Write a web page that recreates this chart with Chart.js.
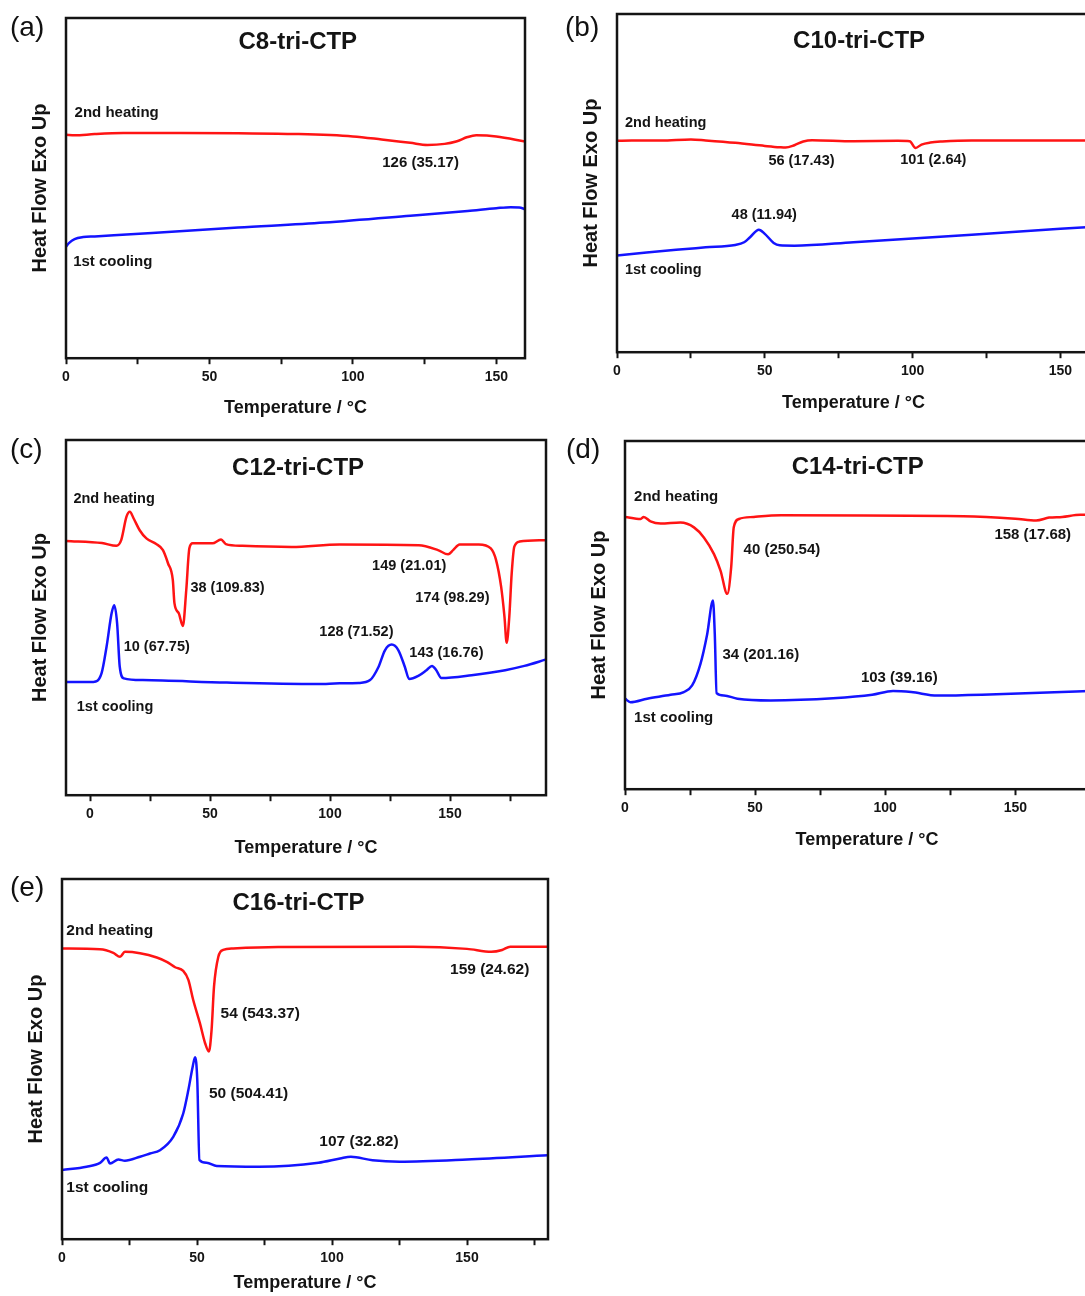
<!DOCTYPE html>
<html lang="en">
<head>
<meta charset="UTF-8">
<title>DSC curves</title>
<style>
  html, body { margin: 0; padding: 0; background: #fff; overflow: hidden; width: 1085px; height: 1296px; }
  body { position: relative; font-family: "Liberation Sans", Arial, sans-serif; }
  canvas { position: absolute; }
  .tag { position: absolute; font-size: 28px; line-height: 1; color: #111; z-index: 2; }
</style>
</head>
<body>
<div class="tag" style="left:10px;top:13px">(a)</div>
<div class="tag" style="left:565px;top:13px">(b)</div>
<div class="tag" style="left:10px;top:435px">(c)</div>
<div class="tag" style="left:566px;top:435px">(d)</div>
<div class="tag" style="left:10px;top:873px">(e)</div>

<script src="https://cdn.jsdelivr.net/npm/chart.js"></script>
<script>
// (a) C8-tri-CTP  -- temperature (°C) / heat flow (relative, 0-100)
const aHeatT = [0, 3, 10, 20, 40, 60, 80, 100, 110, 120, 126, 132, 136, 140, 143, 150, 160];
const aHeatY = [65.7, 65.5, 65.9, 66.2, 66.2, 66.1, 65.9, 65.2, 64.3, 63.3, 62.7, 63.0, 63.7, 65.0, 65.5, 65.2, 63.7];
const aCoolT = [0, 1, 3, 6, 10, 30, 60, 90, 120, 140, 150, 155, 158, 160];
const aCoolY = [32.8, 33.8, 35.0, 35.6, 35.8, 36.8, 38.4, 39.9, 41.9, 43.3, 44.1, 44.4, 44.3, 43.8];

// (b) C10-tri-CTP
const bHeatT = [0, 5, 15, 25, 30, 40, 50, 55, 57, 60, 63, 66, 80, 95, 99, 101, 103, 106, 110, 120, 140, 170];
const bHeatY = [62.5, 62.6, 62.6, 62.9, 62.6, 61.9, 61.0, 60.6, 60.5, 61.2, 62.3, 62.7, 62.4, 62.5, 62.4, 60.4, 61.4, 62.0, 62.3, 62.6, 62.6, 62.6];
const bCoolT = [0, 10, 20, 30, 40, 43, 45, 48, 50, 53, 55, 60, 80, 100, 120, 150, 170];
const bCoolY = [28.6, 29.5, 30.3, 31.0, 31.7, 32.5, 34.0, 36.2, 35.0, 32.3, 31.6, 31.5, 32.5, 33.6, 34.7, 36.5, 37.6];

// (c) C12-tri-CTP
const cHeatT = [-10, 5, 11, 13, 15.2, 16.6, 18.2, 20.7, 23.5, 27.6, 30.4, 32.5, 34.5, 35.2, 37, 38.7, 40.1, 41.4, 42.8, 51,
                54.6, 56.6, 63.5, 84, 104, 137, 145, 149.2, 151.3, 154, 162, 167, 169.2, 171.3, 172.7, 173.6, 174.7, 175.7, 176.8, 179, 190];
const cHeatY = [71.6, 71.0, 70.2, 71.8, 78.4, 79.8, 77.9, 74.6, 72.3, 70.7, 69.0, 65.3, 60.6, 54.0, 51.2, 47.6, 57.7, 69.5, 70.9, 70.9,
                72.0, 70.7, 70.2, 69.9, 70.6, 70.4, 69.0, 67.8, 69.0, 70.6, 70.6, 69.5, 66.2, 58.7, 50.2, 42.9, 50.2, 62.4, 70.0, 71.4, 71.8];
const cCoolT = [-10, 1.4, 4.8, 6.9, 9, 10.1, 11.3, 12.4, 14.1, 22, 57, 95, 104, 112, 116.7, 120.2, 122.9, 125.7, 128.5, 131.2,
                133, 136.8, 140.2, 142.5, 144.3, 146.4, 159, 173, 181, 190];
const cCoolY = [31.9, 31.9, 34.3, 41.8, 51.2, 53.5, 48.4, 36.1, 32.9, 32.4, 31.7, 31.3, 31.5, 31.6, 32.4, 36.1, 40.8, 42.4, 40.8, 36.1,
                32.7, 33.6, 35.2, 36.4, 35.2, 33.0, 33.8, 35.2, 36.4, 38.2];

// (d) C14-tri-CTP
const dHeatT = [0, 6, 7.2, 9.8, 13.7, 21.3, 26.5, 30.3, 34.2, 36.7, 39.3, 40.8, 41.8, 43.8, 49.5, 60, 130, 150, 158, 163, 168, 175, 190];
const dHeatY = [78.2, 77.6, 78.2, 76.9, 76.3, 76.6, 75.2, 72.3, 67.5, 62.8, 56.1, 63.7, 75.2, 77.6, 78.2, 78.7, 78.4, 77.7, 77.2, 78.0, 78.2, 78.8, 78.8];
const dCoolT = [0, 2.1, 8.5, 17.5, 22.6, 25.8, 29, 31.6, 33.8, 34.5, 35.2, 38, 43.2, 56, 80, 95, 103, 110, 120, 140, 190];
const dCoolY = [26.0, 25.0, 26.0, 27.1, 27.9, 29.8, 36.0, 44.6, 54.2, 44.6, 27.6, 26.9, 26.0, 25.5, 26.1, 27.1, 28.2, 27.9, 26.9, 27.2, 28.5];

// (e) C16-tri-CTP
const eHeatT = [0, 14, 19, 21.5, 23.3, 28.9, 35.1, 38.8, 41.9, 44.9, 46.8, 48.6, 51.1, 53, 54.4, 55.4, 56.3, 57.9, 59.7, 63.4,
                80, 130, 150, 159, 163, 166, 180];
const eHeatY = [80.7, 80.5, 79.5, 78.4, 79.8, 79.4, 78.2, 77.0, 75.5, 74.5, 72.0, 66.4, 59.9, 54.4, 52.1, 58.1, 70.1, 78.4, 80.3, 80.7,
                81.1, 81.2, 80.6, 79.8, 80.3, 81.2, 81.2];
const eCoolT = [0, 9.1, 14.1, 16.5, 17.8, 20.9, 23.3, 28.9, 32.6, 36.3, 41.2, 44.9, 46.8, 48.4, 49.3, 50.1, 50.9, 53.6, 57.3, 73,
                95, 103, 107, 115, 125, 150, 180];
const eCoolY = [19.2, 20.1, 21.2, 22.7, 21.0, 22.1, 21.8, 22.9, 23.8, 24.7, 28.4, 34.9, 41.4, 47.9, 50.5, 44.2, 22.0, 21.2, 20.3, 20.1,
                21.2, 22.4, 22.9, 21.9, 21.5, 22.1, 23.3];

// peak labels: [text, temperature, heat flow, align]
const aNotes = [['2nd heating', 3, 72, 'left'], ['1st cooling', 2.5, 28.4, 'left'], ['126 (35.17)', 123.6, 57.4]];
const bNotes = [['2nd heating', 2.7, 67.8, 'left'], ['1st cooling', 2.7, 24.4, 'left'], ['56 (17.43)', 62.4, 56.4],
                ['101 (2.64)', 107, 56.8], ['48 (11.94)', 49.8, 40.7]];
const cNotes = [['2nd heating', -6.9, 83.5, 'left'], ['1st cooling', -5.5, 24.9, 'left'], ['38 (109.83)', 57.3, 58.3],
                ['10 (67.75)', 27.8, 41.8], ['149 (21.01)', 133, 64.6], ['174 (98.29)', 151, 55.4],
                ['128 (71.52)', 111, 45.9], ['143 (16.76)', 148.5, 39.9]];
const dNotes = [['2nd heating', 3.5, 84.1, 'left'], ['1st cooling', 3.5, 20.4, 'left'], ['40 (250.54)', 60.3, 68.8],
                ['158 (17.68)', 156.7, 73.1], ['34 (201.16)', 52.2, 38.5], ['103 (39.16)', 105.4, 32.1]];
const eNotes = [['2nd heating', 1.6, 85.6, 'left'], ['1st cooling', 1.6, 14.3, 'left'], ['54 (543.37)', 73.4, 62.5],
                ['159 (24.62)', 158.4, 74.9], ['50 (504.41)', 69.1, 40.4], ['107 (32.82)', 110, 27.2]];

const FONT = '"Liberation Sans", Arial, sans-serif';
const RED = '#ff1414';
const BLUE = '#1414ff';
const INK = '#141414';

function pts(t, v) { return t.map((x, i) => ({x: x, y: v[i]})); }

// frame box + in-plot title and peak labels
const frameText = {
  id: 'frameText',
  afterDatasetsDraw(chart, args, o) {
    const {ctx, chartArea: a} = chart;
    const sx = chart.scales.x, sy = chart.scales.y;
    ctx.save();
    ctx.strokeStyle = INK;
    ctx.lineWidth = 2.5;
    ctx.strokeRect(a.left, a.top, a.right - a.left, a.bottom - a.top);
    ctx.fillStyle = INK;
    ctx.textBaseline = 'middle';
    ctx.textAlign = 'center';
    ctx.font = 'bold 24px ' + FONT;
    ctx.fillText(o.title[0], sx.getPixelForValue(o.title[1]), sy.getPixelForValue(o.title[2]));
    ctx.font = 'bold ' + o.size + 'px ' + FONT;
    o.notes.forEach(n => {
      ctx.textAlign = n[3] || 'center';
      ctx.fillText(n[0], sx.getPixelForValue(n[1]), sy.getPixelForValue(n[2]));
    });
    ctx.restore();
  }
};

function makePanel(p) {
  const YW = 38, PT = 8, PR = 8;
  const XH = p.gap + 10.8;
  const cv = document.createElement('canvas');
  cv.width = Math.round(YW + p.w + PR);
  cv.height = Math.round(PT + p.h + XH);
  cv.style.left = (p.left - YW) + 'px';
  cv.style.top = (p.top - PT) + 'px';
  document.body.appendChild(cv);

  const line = (data, color) => ({
    data: data, borderColor: color, borderWidth: 2.5, pointRadius: 0,
    cubicInterpolationMode: 'monotone', fill: false
  });

  new Chart(cv, {
    type: 'line',
    data: { datasets: [line(pts(p.heatT, p.heatY), RED), line(pts(p.coolT, p.coolY), BLUE)] },
    options: {
      responsive: false,
      animation: false,
      layout: { padding: { top: PT, right: PR, left: 0, bottom: 0 } },
      plugins: {
        legend: { display: false },
        tooltip: { enabled: false },
        frameText: { title: p.title, notes: p.notes, size: p.size }
      },
      scales: {
        x: {
          type: 'linear', min: p.xMin, max: p.xMax,
          afterBuildTicks: s => {
            const t = [];
            const top = Math.min(s.max, p.tickMax);
            for (let v = Math.ceil(s.min / 25) * 25; v <= top; v += 25) t.push({value: v});
            s.ticks = t;
          },
          afterFit: s => { s.height = XH; },
          ticks: {
            autoSkip: false, maxRotation: 0, padding: 5, color: INK,
            font: { family: FONT, size: 14, weight: 'bold' },
            callback: v => (v % 50 === 0 ? v : '')
          },
          grid: { drawOnChartArea: false, drawTicks: true, tickLength: 6, tickWidth: 2, color: INK },
          border: { display: false },
          title: { display: true, text: 'Temperature / °C', color: INK, padding: 0,
                   font: { family: FONT, size: 18, weight: 'bold' } }
        },
        y: {
          min: 0, max: 100,
          afterFit: s => { s.width = YW; },
          ticks: { display: false },
          grid: { display: false },
          border: { display: false },
          title: { display: true, text: 'Heat Flow Exo Up', color: INK, padding: 0,
                   font: { family: FONT, size: 20, weight: 'bold' } }
        }
      }
    },
    plugins: [frameText]
  });
}

makePanel({ left: 66, top: 18, w: 459, h: 340, gap: 50, xMin: 0, xMax: 160, tickMax: 175,
  heatT: aHeatT, heatY: aHeatY, coolT: aCoolT, coolY: aCoolY,
  title: ['C8-tri-CTP', 80.8, 92.9], notes: aNotes, size: 15 });

makePanel({ left: 617, top: 14, w: 472.5, h: 338, gap: 51, xMin: 0, xMax: 160, tickMax: 175,
  heatT: bHeatT, heatY: bHeatY, coolT: bCoolT, coolY: bCoolY,
  title: ['C10-tri-CTP', 81.9, 91.8], notes: bNotes, size: 14.5 });

makePanel({ left: 66, top: 440, w: 480, h: 355, gap: 53, xMin: -10, xMax: 190, tickMax: 175,
  heatT: cHeatT, heatY: cHeatY, coolT: cCoolT, coolY: cCoolY,
  title: ['C12-tri-CTP', 86.7, 92], notes: cNotes, size: 14.5 });

makePanel({ left: 624.5, top: 440.5, w: 483.6, h: 348.5, gap: 51, xMin: 0, xMax: 186, tickMax: 150,
  heatT: dHeatT, heatY: dHeatY, coolT: dCoolT, coolY: dCoolY,
  title: ['C14-tri-CTP', 89.4, 92.4], notes: dNotes, size: 15 });

makePanel({ left: 62, top: 879, w: 486, h: 360, gap: 44, xMin: 0, xMax: 180, tickMax: 175,
  heatT: eHeatT, heatY: eHeatY, coolT: eCoolT, coolY: eCoolY,
  title: ['C16-tri-CTP', 87.6, 93.2], notes: eNotes, size: 15.5 });
</script>
</body>
</html>
